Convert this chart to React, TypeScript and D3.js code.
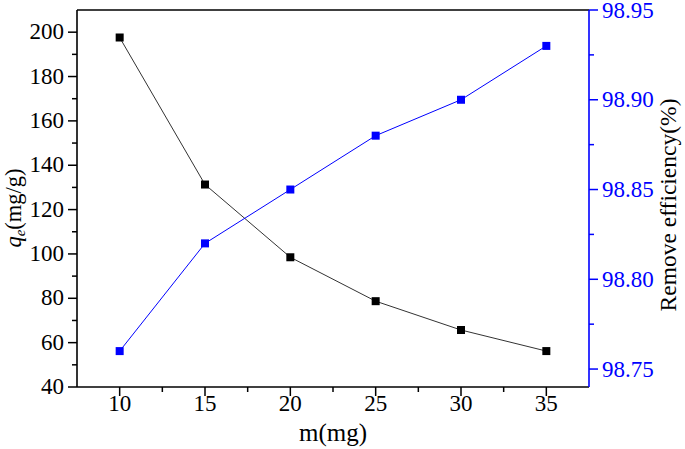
import * as d3 from "d3";

const masses = [10, 15, 20, 25, 30, 35];
const qeValues = [197.6, 131.3, 98.5, 78.7, 65.7, 56.2];
const efficiency = [98.76, 98.82, 98.85, 98.88, 98.9, 98.93];
const xTicks = [10, 15, 20, 25, 30, 35];
const xMinorTicks = [12.5, 17.5, 22.5, 27.5, 32.5];
const leftTicks = [40, 60, 80, 100, 120, 140, 160, 180, 200];
const leftMinorTicks = [50, 70, 90, 110, 130, 150, 170, 190];
const rightTicks = [98.75, 98.8, 98.85, 98.9, 98.95];
const rightMinorTicks = [98.775, 98.825, 98.875, 98.925];

const BLUE = "#0000ff";
const FONT = "Liberation Serif";

const left = 77;
const right = 589;
const top = 10;
const bottom = 387;

const x = d3.scaleLinear().domain([7.5, 37.5]).range([left, right]);
const yL = d3.scaleLinear().domain([40, 210]).range([bottom, top]);
const yR = d3.scaleLinear().domain([98.74, 98.95]).range([bottom, top]);

type P = { m: number; q: number; e: number };
const pts: P[] = masses.map((m, i) => ({ m, q: qeValues[i], e: efficiency[i] }));

const qLine = d3.line<P>().x((d) => x(d.m)).y((d) => yL(d.q));
const eLine = d3.line<P>().x((d) => x(d.m)).y((d) => yR(d.e));

const MAJ = 9;
const MIN = 5;
const TICK_FS = 23;

export default function App() {
  const txt = { fontFamily: FONT };
  return (
    <svg
      width={685}
      height={449}
      style={{ position: "absolute", left: 0, top: 0, display: "block", fontFamily: FONT }}
    >
      {/* frame */}
      <line x1={left} x2={right} y1={top} y2={top} stroke="#000" strokeWidth={1.6} />
      <line x1={left} x2={right} y1={bottom} y2={bottom} stroke="#000" strokeWidth={1.6} />
      <line x1={left} x2={left} y1={top} y2={bottom} stroke="#000" strokeWidth={1.6} />
      <line x1={right} x2={right} y1={top} y2={bottom} stroke={BLUE} strokeWidth={1.6} />

      {/* bottom ticks */}
      {xTicks.map((t) => (
        <g key={`x${t}`}>
          <line x1={x(t)} x2={x(t)} y1={bottom} y2={bottom + MAJ} stroke="#000" strokeWidth={1.5} />
          <text x={x(t)} y={bottom + 24} textAnchor="middle" fontSize={TICK_FS} style={txt}>
            {t}
          </text>
        </g>
      ))}
      {xMinorTicks.map((t) => (
        <line key={`xm${t}`} x1={x(t)} x2={x(t)} y1={bottom} y2={bottom + MIN} stroke="#000" strokeWidth={1.5} />
      ))}

      {/* left ticks */}
      {leftTicks.map((t) => (
        <g key={`l${t}`}>
          <line x1={left - MAJ} x2={left} y1={yL(t)} y2={yL(t)} stroke="#000" strokeWidth={1.5} />
          <text x={left - 13} y={yL(t) + 7} textAnchor="end" fontSize={TICK_FS} style={txt}>
            {t}
          </text>
        </g>
      ))}
      {leftMinorTicks.map((t) => (
        <line key={`lm${t}`} x1={left - MIN} x2={left} y1={yL(t)} y2={yL(t)} stroke="#000" strokeWidth={1.5} />
      ))}

      {/* right ticks */}
      {rightTicks.map((t) => (
        <g key={`r${t}`}>
          <line x1={right} x2={right + MAJ} y1={yR(t)} y2={yR(t)} stroke={BLUE} strokeWidth={1.5} />
          <text x={right + 13} y={yR(t) + 7.5} fontSize={TICK_FS} fill={BLUE} style={txt}>
            {d3.format(".2f")(t)}
          </text>
        </g>
      ))}
      {rightMinorTicks.map((t) => (
        <line key={`rm${t}`} x1={right} x2={right + MIN} y1={yR(t)} y2={yR(t)} stroke={BLUE} strokeWidth={1.5} />
      ))}

      {/* qe series */}
      <path d={qLine(pts) ?? ""} fill="none" stroke="#333" strokeWidth={1} />
      {pts.map((d) => (
        <rect key={`q${d.m}`} x={x(d.m) - 4} y={yL(d.q) - 4} width={8} height={8} fill="#000" />
      ))}

      {/* efficiency series */}
      <path d={eLine(pts) ?? ""} fill="none" stroke={BLUE} strokeWidth={1} />
      {pts.map((d) => (
        <rect key={`e${d.m}`} x={x(d.m) - 4} y={yR(d.e) - 4} width={8} height={8} fill={BLUE} />
      ))}

      {/* titles */}
      <text x={(left + right) / 2} y={441} textAnchor="middle" fontSize={25} style={txt}>
        m(mg)
      </text>
      <text transform="translate(21,208) rotate(-90)" textAnchor="middle" fontSize={22.5} style={txt}>
        <tspan fontStyle="italic">q</tspan>
        <tspan fontStyle="italic" fontSize={15} dy={4}>e</tspan>
        <tspan dy={-4}>(mg/g)</tspan>
      </text>
      <text transform="translate(676,205) rotate(-90)" textAnchor="middle" fontSize={23.5} style={txt}>
        Remove efficiency(%)
      </text>
    </svg>
  );
}
